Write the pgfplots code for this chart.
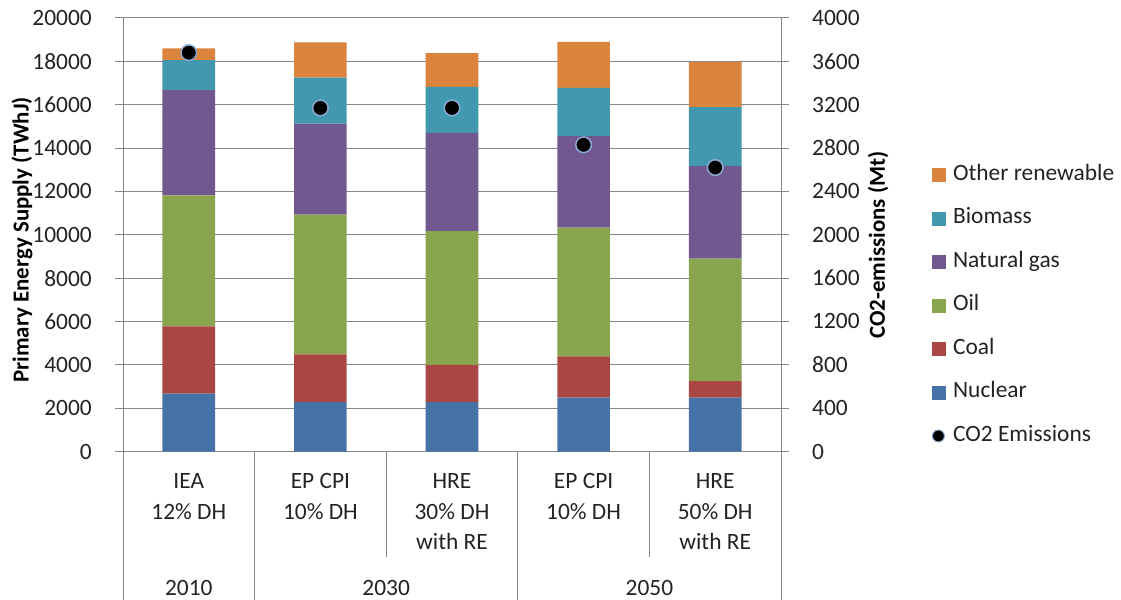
\documentclass[border=0pt]{standalone}
\usepackage{pgfplots}
\pgfplotsset{compat=1.18}
\usepackage{fontspec}
\setmainfont{Carlito}
\definecolor{cNuc}{RGB}{69,114,167}
\definecolor{cCoal}{RGB}{170,70,67}
\definecolor{cOil}{RGB}{137,165,78}
\definecolor{cGas}{RGB}{113,88,143}
\definecolor{cBio}{RGB}{65,152,175}
\definecolor{cOth}{RGB}{219,132,61}
\definecolor{gridc}{RGB}{134,134,134}
\definecolor{txt}{RGB}{35,35,35}
\definecolor{co2edge}{RGB}{140,170,210}
\newcommand\fs{\fontsize{23.5}{31}\selectfont}
\newcommand\fl{\fontsize{23}{27}\selectfont\bfseries}
\begin{document}
\begin{tikzpicture}[font=\fs, text=txt]
\useasboundingbox (0,0) rectangle (1121bp,600bp);
\begin{axis}[
  at={(123bp,148.5bp)}, anchor=south west,
  scale only axis, width=658bp, height=433.5bp,
  xmin=-0.5, xmax=4.5, ymin=0, ymax=20000,
  ybar stacked, bar width=0.4,
  axis y line*=left, axis x line*=bottom,
  axis line style={gridc, line width=1bp, -},
  ytick={0,2000,...,20000}, scaled y ticks=false,
  ymajorgrids, major grid style={gridc, line width=1bp},
  ytick style={gridc, line width=1bp},
  major tick length=8bp, tick align=outside,
  xtick={0,...,4}, xtick style={draw=none},
  xticklabels={{IEA\\12\% DH},{EP CPI\\10\% DH},{HRE\\30\% DH\\with RE},{EP CPI\\10\% DH},{HRE\\50\% DH\\with RE}},
  xticklabel style={align=center, anchor=north, inner sep=0pt, yshift=-13.5bp, font=\fs, text=txt},
  yticklabel style={anchor=east, inner sep=0pt, xshift=-23bp, font=\fs, text=txt},
  /pgf/number format/.cd, 1000 sep={}, assume math mode=true, /pgfplots/.cd,
  ylabel={Primary Energy Supply (TWhJ)},
  ylabel style={at={(axis description cs:-0.1535,0.488)}, anchor=center, inner sep=0pt, font=\fl, text=black},
  clip=false,
]
\addplot[fill=cNuc, draw=none] coordinates {(0,2670) (1,2280) (2,2280) (3,2490) (4,2490)};
\addplot[fill=cCoal, draw=none] coordinates {(0,3100) (1,2200) (2,1720) (3,1900) (4,760)};
\addplot[fill=cOil, draw=none] coordinates {(0,6050) (1,6450) (2,6170) (3,5940) (4,5650)};
\addplot[fill=cGas, draw=none] coordinates {(0,4850) (1,4200) (2,4530) (3,4220) (4,4265)};
\addplot[fill=cBio, draw=none] coordinates {(0,1390) (1,2120) (2,2120) (3,2230) (4,2725)};
\addplot[fill=cOth, draw=none] coordinates {(0,540) (1,1620) (2,1560) (3,2120) (4,2090)};
\draw[gridc, line width=1bp] (axis cs:-0.5,0) -- ([yshift=-148.5bp]axis cs:-0.5,0);
\draw[gridc, line width=1bp] (axis cs:0.5,0) -- ([yshift=-148.5bp]axis cs:0.5,0);
\draw[gridc, line width=1bp] (axis cs:1.5,0) -- ([yshift=-105bp]axis cs:1.5,0);
\draw[gridc, line width=1bp] (axis cs:2.5,0) -- ([yshift=-148.5bp]axis cs:2.5,0);
\draw[gridc, line width=1bp] (axis cs:3.5,0) -- ([yshift=-105bp]axis cs:3.5,0);
\draw[gridc, line width=1bp] (axis cs:4.5,0) -- ([yshift=-148.5bp]axis cs:4.5,0);
\node[anchor=base, yshift=-143.5bp, inner sep=0pt] at (axis cs:0,0) {2010};
\node[anchor=base, yshift=-143.5bp, inner sep=0pt] at (axis cs:1.5,0) {2030};
\node[anchor=base, yshift=-143.5bp, inner sep=0pt] at (axis cs:3.5,0) {2050};
\end{axis}
\begin{axis}[
  at={(123bp,148.5bp)}, anchor=south west,
  scale only axis, width=658bp, height=433.5bp,
  xmin=-0.5, xmax=4.5, ymin=0, ymax=4000,
  axis y line*=right, axis x line=none,
  axis line style={gridc, line width=1bp, -},
  ytick={0,400,...,4000}, scaled y ticks=false,
  ytick style={gridc, line width=1bp},
  major tick length=8bp, tick align=outside,
  yticklabel style={anchor=west, inner sep=0pt, xshift=23bp, font=\fs, text=txt},
  /pgf/number format/.cd, 1000 sep={}, assume math mode=true, /pgfplots/.cd,
  ylabel={CO2-emissions (Mt)},
  ylabel style={at={(axis description cs:1.1474,0.476)}, anchor=center, inner sep=0pt, font=\fl, text=black},
  clip=false,
  legend cell align=left,
  legend style={at={(axis description cs:1.229,0.661)}, anchor=north west, draw=none, fill=none,
    inner sep=0pt, outer sep=0pt, row sep=23.5bp, font=\fs,
    nodes={inner sep=0pt, text height=15.5bp, text depth=4.5bp, text=txt},
    /tikz/every odd column/.append style={column sep=8bp}},
]
\addlegendimage{legend image code/.code={\fill[cOth] (0bp,-6.5bp) rectangle (13bp,6.5bp);}}
\addlegendentry{Other renewable}
\addlegendimage{legend image code/.code={\fill[cBio] (0bp,-6.5bp) rectangle (13bp,6.5bp);}}
\addlegendentry{Biomass}
\addlegendimage{legend image code/.code={\fill[cGas] (0bp,-6.5bp) rectangle (13bp,6.5bp);}}
\addlegendentry{Natural gas}
\addlegendimage{legend image code/.code={\fill[cOil] (0bp,-6.5bp) rectangle (13bp,6.5bp);}}
\addlegendentry{Oil}
\addlegendimage{legend image code/.code={\fill[cCoal] (0bp,-6.5bp) rectangle (13bp,6.5bp);}}
\addlegendentry{Coal}
\addlegendimage{legend image code/.code={\fill[cNuc] (0bp,-6.5bp) rectangle (13bp,6.5bp);}}
\addlegendentry{Nuclear}
\addplot[only marks, mark=*, mark size=7.8bp, mark options={fill=black, draw=co2edge, line width=1.5bp},
  legend image code/.code={\draw[fill=black, draw=co2edge, line width=1bp] (6.5bp,0bp) circle (6bp);}]
  coordinates {(0,3680) (1,3170) (2,3170) (3,2830) (4,2620)};
\addlegendentry{CO2 Emissions}
\end{axis}
\end{tikzpicture}
\end{document}
